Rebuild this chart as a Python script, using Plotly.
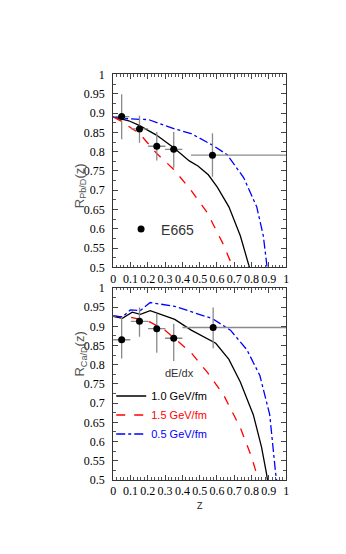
import plotly.graph_objects as go

# E665 data (z, R, errors)
pb_z = [0.049, 0.152, 0.252, 0.35, 0.574]
pb_r = [0.891, 0.859, 0.814, 0.806, 0.791]
pb_ey_plus = [0.058, 0.034, 0.037, 0.045, 0.057]
pb_ey_minus = [0.059, 0.036, 0.037, 0.048, 0.056]
pb_ex_plus = [0.045, 0.05, 0.05, 0.05, 0.426]
pb_ex_minus = [0.045, 0.05, 0.05, 0.05, 0.124]

ca_z = [0.049, 0.152, 0.252, 0.35, 0.578]
ca_r = [0.865, 0.913, 0.894, 0.869, 0.897]
ca_ey_plus = [0.059, 0.036, 0.038, 0.038, 0.052]
ca_ey_minus = [0.049, 0.040, 0.063, 0.059, 0.054]
ca_ex_plus = [0.05, 0.05, 0.05, 0.05, 0.422]
ca_ex_minus = [0.05, 0.05, 0.05, 0.05, 0.178]

# model curves, Pb/D
pb_10_z = [0, 0.05, 0.09, 0.15, 0.25, 0.35, 0.44, 0.49, 0.55, 0.602, 0.669, 0.735, 0.788]
pb_10_r = [0.89, 0.885, 0.880, 0.868, 0.843, 0.810, 0.776, 0.763, 0.740, 0.708, 0.657, 0.582, 0.50]
pb_15_z = [0, 0.05, 0.081, 0.152, 0.252, 0.35, 0.45, 0.545, 0.631, 0.693]
pb_15_r = [0.89, 0.878, 0.868, 0.847, 0.795, 0.754, 0.700, 0.641, 0.565, 0.50]
pb_05_z = [0, 0.09, 0.205, 0.261, 0.356, 0.45, 0.574, 0.659, 0.754, 0.83, 0.868, 0.89]
pb_05_r = [0.89, 0.885, 0.883, 0.874, 0.859, 0.847, 0.817, 0.792, 0.733, 0.657, 0.582, 0.50]

# model curves, Ca/D
ca_10_z = [0, 0.053, 0.11, 0.157, 0.214, 0.356, 0.451, 0.593, 0.669, 0.735, 0.81, 0.858, 0.886, 0.892]
ca_10_r = [0.926, 0.921, 0.937, 0.931, 0.941, 0.918, 0.890, 0.856, 0.814, 0.755, 0.670, 0.585, 0.518, 0.50]
ca_15_z = [0, 0.09, 0.157, 0.214, 0.30, 0.356, 0.451, 0.545, 0.64, 0.735, 0.80, 0.84]
ca_15_r = [0.926, 0.925, 0.918, 0.911, 0.890, 0.869, 0.831, 0.780, 0.720, 0.636, 0.560, 0.50]
ca_05_z = [0, 0.053, 0.10, 0.157, 0.214, 0.356, 0.451, 0.574, 0.678, 0.773, 0.848, 0.905, 0.939, 0.945]
ca_05_r = [0.928, 0.924, 0.943, 0.941, 0.962, 0.952, 0.938, 0.920, 0.890, 0.839, 0.772, 0.670, 0.518, 0.50]

W, H = 346, 554
xdom = [104 / W, 280 / W]
ydom_top = [1 - 259 / H, 1 - 61 / H]
ydom_bot = [1 - 477 / H, 1 - 280 / H]

fig = go.Figure()

def curve(x, y, color, dash, name, xa, ya, show):
    fig.add_trace(go.Scatter(x=x, y=y, mode="lines", name=name, xaxis=xa, yaxis=ya,
                             line=dict(color=color, width=1.3, dash=dash),
                             showlegend=show, legend="legend"))

curve(pb_10_z, pb_10_r, "black", "solid", "1.0 GeV/fm", "x", "y", False)
curve(pb_15_z, pb_15_r, "red", "dash", "1.5 GeV/fm", "x", "y", False)
curve(pb_05_z, pb_05_r, "blue", "dashdot", "0.5 GeV/fm", "x", "y", False)

curve(ca_10_z, ca_10_r, "black", "solid", "1.0 GeV/fm", "x2", "y2", True)
curve(ca_15_z, ca_15_r, "red", "dash", "<span style='color:red'>1.5 GeV/fm</span>", "x2", "y2", True)
curve(ca_05_z, ca_05_r, "blue", "dashdot", "<span style='color:blue'>0.5 GeV/fm</span>", "x2", "y2", True)

err_color = "#8a8a8a"
fig.add_trace(go.Scatter(
    x=pb_z, y=pb_r, mode="markers", name="E665", xaxis="x", yaxis="y",
    marker=dict(color="black", size=7),
    error_y=dict(type="data", array=pb_ey_plus, arrayminus=pb_ey_minus, color=err_color, thickness=1.3, width=0),
    error_x=dict(type="data", array=pb_ex_plus, arrayminus=pb_ex_minus, color=err_color, thickness=1.3, width=0),
    legend="legend2"))
fig.add_trace(go.Scatter(
    x=ca_z, y=ca_r, mode="markers", name="E665", xaxis="x2", yaxis="y2", showlegend=False,
    marker=dict(color="black", size=7),
    error_y=dict(type="data", array=ca_ey_plus, arrayminus=ca_ey_minus, color=err_color, thickness=1.3, width=0),
    error_x=dict(type="data", array=ca_ex_plus, arrayminus=ca_ex_minus, color=err_color, thickness=1.3, width=0)))

tick_font = dict(family="Liberation Serif, Times New Roman, serif", size=12, color="black")
xcommon = dict(domain=xdom, range=[0, 1], dtick=0.1, tick0=0, ticks="inside", ticklen=5,
               mirror="allticks", showline=True, linecolor="#333", linewidth=1,
               showgrid=False, zeroline=False, tickfont=tick_font,
               minor=dict(dtick=0.02, ticks="inside", ticklen=2.5, tickcolor="#555"))
ycommon = dict(range=[0.5, 1], dtick=0.05, tick0=0.5, ticks="inside", ticklen=5,
               mirror="allticks", showline=True, linecolor="#333", linewidth=1,
               showgrid=False, zeroline=False, tickfont=tick_font, ticklabelstandoff=5,
               minor=dict(dtick=0.025, ticks="inside", ticklen=3, tickcolor="#555"))

fig.update_layout(
    width=W, height=H, margin=dict(l=0, r=0, t=0, b=0),
    paper_bgcolor="white", plot_bgcolor="white",
    xaxis=dict(anchor="y", **xcommon),
    yaxis=dict(anchor="x", domain=ydom_top, **ycommon),
    xaxis2=dict(anchor="y2", title=dict(text="z", font=dict(family="Liberation Sans", size=12, color="#444"), standoff=2), **xcommon),
    yaxis2=dict(anchor="x2", domain=ydom_bot, **ycommon),
    legend=dict(x=102 / W, y=1 - 376 / H, xanchor="left", yanchor="top",
                bgcolor="rgba(0,0,0,0)", tracegroupgap=0,
                font=dict(family="Liberation Sans", size=11, color="black")),
    legend2=dict(x=112 / W, y=1 - 220 / H, xanchor="left", yanchor="middle", bgcolor="rgba(0,0,0,0)",
                 font=dict(family="Liberation Sans", size=14, color="#333")),
    showlegend=True,
    annotations=[
        dict(text="dE/dx", x=171 / W, y=1 - 375 / H, xref="paper", yref="paper",
             showarrow=False, font=dict(family="Liberation Sans", size=11, color="#333")),
        dict(text="R<sub>Pb/D</sub>(z)", x=60 / W, y=1 - 150 / H, xref="paper", yref="paper",
             textangle=-90, showarrow=False, font=dict(family="Liberation Sans", size=13, color="#555")),
        dict(text="R<sub>Ca/D</sub>(z)", x=60 / W, y=1 - 373 / H, xref="paper", yref="paper",
             textangle=-90, showarrow=False, font=dict(family="Liberation Sans", size=13, color="#555")),
    ],
)

fig.write_html("out.html")
